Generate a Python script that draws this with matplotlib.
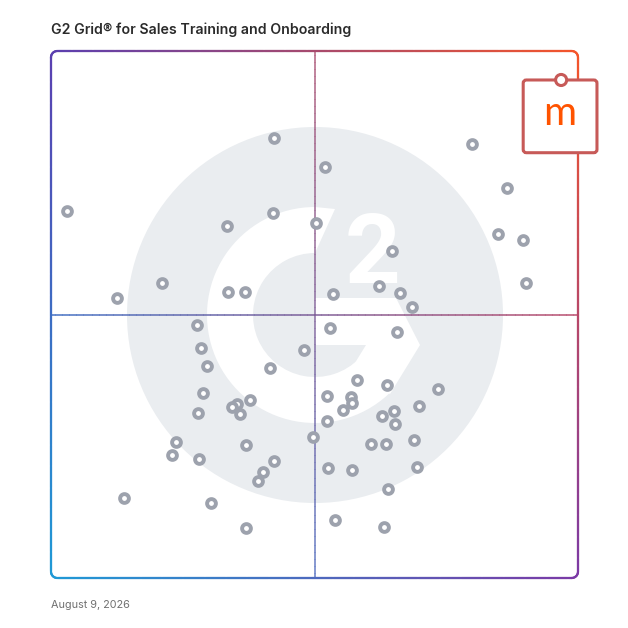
import numpy as np
import matplotlib.pyplot as plt
from matplotlib.collections import LineCollection
from matplotlib.patches import Circle, Wedge, Polygon, FancyBboxPatch
from matplotlib.colors import to_rgb

# data: satisfaction (x) and market presence (y), 0-100
satisfaction = [42.3, 52.0, 79.9, 86.5, 33.4, 42.1, 50.3, 84.8, 64.7, 21.1,
                33.6, 36.8, 53.5, 62.2, 66.2, 68.5, 27.7, 52.9, 65.7, 28.5,
                48.0, 29.6, 41.6, 58.1, 63.8, 73.4, 28.8, 52.4, 56.9, 57.1,
                55.4, 37.8, 35.3, 34.3, 35.9, 27.9, 69.8, 65.1, 62.8, 65.3,
                52.4, 49.7, 23.7, 37.0, 60.7, 63.6, 68.9, 23.0, 28.1, 42.3,
                40.2, 39.3, 52.6, 57.1, 69.4, 63.9, 30.4, 3.0, 12.5, 13.9,
                37.0, 53.9, 63.2, 89.6, 90.1]
market_presence = [83.5, 78.0, 82.4, 74.0, 66.8, 69.3, 67.4, 65.3, 62.0, 56.0,
                   54.3, 54.3, 53.9, 55.4, 54.1, 51.4, 48.0, 47.4, 46.7, 43.6,
                   43.3, 40.2, 39.8, 37.6, 36.6, 35.9, 35.1, 34.5, 34.3, 33.2,
                   31.9, 33.8, 33.0, 32.4, 31.1, 31.3, 32.6, 31.7, 30.7, 29.2,
                   29.8, 26.8, 25.8, 25.2, 25.4, 25.4, 26.2, 23.3, 22.6, 22.2,
                   20.1, 18.4, 20.9, 20.5, 21.1, 16.9, 14.2, 69.6, 53.1, 15.2,
                   9.5, 11.0, 9.7, 64.1, 56.0]
featured_x, featured_y = 96.8, 94.5
featured_label = 'm'
title = 'G2 Grid\u00ae for Sales Training and Onboarding'
date_label = 'August 9, 2026'

# corner colours of the border gradient
TL = np.array(to_rgb('#5b3fb0'))
TR = np.array(to_rgb('#f5552a'))
BL = np.array(to_rgb('#1f9ad6'))
BR = np.array(to_rgb('#7b3aa6'))


def grad(x, y):
    u = np.clip(np.asarray(x) / 100, 0, 1)[:, None]
    v = np.clip(np.asarray(y) / 100, 0, 1)[:, None]
    return (1-u)*(1-v)*BL + u*(1-v)*BR + (1-u)*v*TL + u*v*TR


def grad_line(ax, xs, ys, lw, alpha=1.0, z=2):
    pts = np.c_[xs, ys]
    segs = np.stack([pts[:-1], pts[1:]], axis=1)
    mid = (pts[:-1] + pts[1:]) / 2
    cols = np.c_[grad(mid[:, 0], mid[:, 1]), np.full(len(mid), alpha)]
    lc = LineCollection(segs, colors=cols, linewidths=lw, zorder=z,
                        capstyle='round', clip_on=False)
    ax.add_collection(lc)


def rounded_rect(r, n=2000):
    parts = []
    for cx, cy, a0 in [(100-r, r, -90), (100-r, 100-r, 0), (r, 100-r, 90), (r, r, 180)]:
        t = np.radians(np.linspace(a0, a0+90, 30))
        parts.append(np.c_[cx + r*np.cos(t), cy + r*np.sin(t)])
    p = np.vstack(parts + [parts[0][:1]])
    d = np.r_[0, np.cumsum(np.hypot(*np.diff(p, axis=0).T))]
    s = np.linspace(0, d[-1], n)
    return np.interp(s, d, p[:, 0]), np.interp(s, d, p[:, 1])


def px(x, y):
    # pixel position in the 628px picture -> data units
    return ((x - 51) / 5.27, (578 - y) / 5.27)


fig = plt.figure(figsize=(6.28, 6.28), dpi=100)
ax = fig.add_axes([51/628, 1-578/628, 527/628, 527/628])
ax.set_xlim(0, 100)
ax.set_ylim(0, 100)
ax.axis('off')

# G2 watermark
wm = '#eaedf0'
ax.add_patch(Circle(px(315, 315), 188/5.27, color=wm, zorder=0, lw=0))
ax.add_patch(Wedge(px(315, 315), 108/5.27, 90, 316, width=46/5.27,
                   color='white', zorder=1, lw=0))
ax.add_patch(Polygon([px(315, 253), px(315, 207), px(335, 209)],
                     color='white', zorder=1, lw=0))
ax.add_patch(Polygon([px(*p) for p in [(315, 298), (396, 298), (420, 345), (390, 394),
                                       (350, 371), (366, 345), (315, 345)]],
                     color='white', zorder=1, lw=0))
bx, by = px(372.5, 283)
ax.text(bx, by, '2', fontsize=70, fontweight='bold', family='Roboto',
        color='white', ha='center', va='baseline', zorder=1)

# quadrant lines and border
ys = np.linspace(0, 100, 300)
grad_line(ax, np.full_like(ys, 50), ys, 1.1, alpha=0.7)
grad_line(ax, ys, np.full_like(ys, 50), 1.1, alpha=0.8)
bxs, bys = rounded_rect(1.2)
grad_line(ax, bxs, bys, 1.6, z=3)

# products
ax.scatter(satisfaction, market_presence, s=40, facecolor='white',
           edgecolor='#9da2ad', linewidths=2.8, zorder=5)

# featured product
ec = '#c75a58'
ax.add_patch(FancyBboxPatch((featured_x - 7.2, featured_y - 13.8), 14, 13.8,
                            boxstyle='round,pad=0,rounding_size=0.6',
                            fc='white', ec=ec, lw=2.2, clip_on=False, zorder=6))
ax.add_patch(Circle((featured_x, featured_y), 1.05, fc='white', ec=ec, lw=2.2,
                    clip_on=False, zorder=7))
ax.text(featured_x - 0.2, featured_y - 8.5, featured_label, fontsize=29,
        family='Lato', color='#ff5300', ha='center',
        va='baseline', zorder=8, clip_on=False)

fig.text(51/628, 1-34/628, title, fontsize=10.2, fontweight='semibold',
         family='Inter', color='#2b2b2b', va='baseline')
fig.text(51/628, 1-608/628, date_label, fontsize=7.8, family='Inter',
         color='#707070', va='baseline')

fig.savefig('out.png', dpi=100)
